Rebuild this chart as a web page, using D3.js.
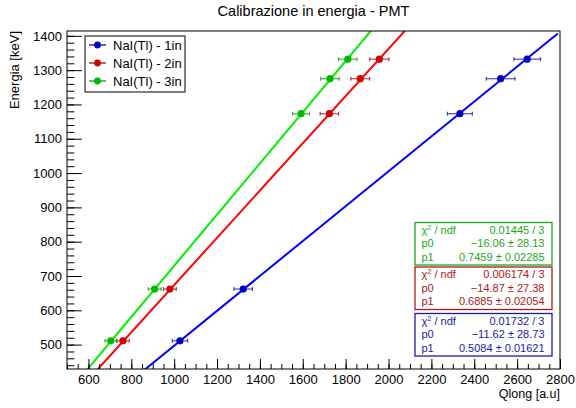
<!DOCTYPE html>
<html>
<head>
<meta charset="utf-8">
<script src="https://cdn.jsdelivr.net/npm/d3@7"></script>
<style>
  body { margin: 0; background: #fff; }
  text { font-family: "Liberation Sans", Arial, Helvetica, sans-serif; }
</style>
</head>
<body>
<svg id="chart"></svg>
<script>
// Calibration points: gamma line energies (keV) vs charge (Qlong) for three NaI(Tl) crystals
const energies = [511, 662, 1173, 1275, 1332];

const qlong1in = [1027, 1322, 2333, 2523, 2647];
const qerr1in = [36, 43, 58, 67, 62];
const qlong2in = [761, 980, 1724, 1868, 1957];
const qerr2in = [29, 30, 43, 44, 45];
const qlong3in = [704, 909, 1592, 1727, 1810];
const qerr3in = [27, 30, 39, 43, 43];

const seriesNames = ["NaI(Tl) - 1in", "NaI(Tl) - 2in", "NaI(Tl) - 3in"];

// pol1 fit results: E = p0 + p1 * Q
const fitP0 = [-11.62, -14.87, -16.06];
const fitP1 = [0.5084, 0.6885, 0.7459];
const fitChi2 = ["0.01732 / 3", "0.006174 / 3", "0.01445 / 3"];
const fitP0Text = ["\u221211.62 \u00b1 28.73", "\u221214.87 \u00b1 27.38", "\u221216.06 \u00b1 28.13"];
const fitP1Text = ["0.5084 \u00b1 0.01621", "0.6885 \u00b1 0.02054", "0.7459 \u00b1 0.02285"];

const xTicks = [600, 800, 1000, 1200, 1400, 1600, 1800, 2000, 2200, 2400, 2600, 2800];
const yTicks = [500, 600, 700, 800, 900, 1000, 1100, 1200, 1300, 1400];

const width = 576, height = 408;
const frame = {left: 67, right: 560, top: 31, bottom: 369};

const lineColors = ["#0000ff", "#ff0000", "#00ee00"];
const markerColors = ["#0000c8", "#d40000", "#00b800"];
const barColors = ["#00008c", "#8c0000", "#008c00"];
const statColors = ["#1a1aa8", "#a81a1a", "#1aa81a"];

const series = [
  {name: seriesNames[0], q: qlong1in, err: qerr1in},
  {name: seriesNames[1], q: qlong2in, err: qerr2in},
  {name: seriesNames[2], q: qlong3in, err: qerr3in}
];

const svg = d3.select("#chart")
  .attr("width", width)
  .attr("height", height);

svg.append("rect")
  .attr("width", width)
  .attr("height", height)
  .attr("fill", "#fff");

const x = d3.scaleLinear().domain([500, 2800]).range([frame.left, frame.right]);
const y = d3.scaleLinear().domain([428.9, 1414.1]).range([frame.bottom, frame.top]);

const fw = frame.right - frame.left, fh = frame.bottom - frame.top;

svg.append("clipPath").attr("id", "plotclip")
  .append("rect")
  .attr("x", frame.left).attr("y", frame.top)
  .attr("width", fw).attr("height", fh);

// fit lines
const plot = svg.append("g").attr("clip-path", "url(#plotclip)");
series.forEach((s, i) => {
  const line = d3.line().x(d => x(d)).y(d => y(fitP0[i] + fitP1[i] * d));
  plot.append("path")
    .attr("d", line([500, 2790]))
    .attr("fill", "none")
    .attr("stroke", lineColors[i])
    .attr("stroke-width", 2);
});

// points with horizontal error bars
series.forEach((s, i) => {
  const g = svg.append("g");
  const pts = energies.map((e, k) => ({e, q: s.q[k], err: s.err[k]}));
  const bars = g.selectAll(".bar").data(pts).enter().append("g")
    .attr("stroke", barColors[i])
    .attr("stroke-opacity", 0.7)
    .attr("stroke-width", 1.2);
  bars.append("line")
    .attr("x1", d => x(d.q - d.err)).attr("x2", d => x(d.q + d.err))
    .attr("y1", d => y(d.e)).attr("y2", d => y(d.e));
  bars.append("line")
    .attr("x1", d => x(d.q - d.err)).attr("x2", d => x(d.q - d.err))
    .attr("y1", d => y(d.e) - 2).attr("y2", d => y(d.e) + 2);
  bars.append("line")
    .attr("x1", d => x(d.q + d.err)).attr("x2", d => x(d.q + d.err))
    .attr("y1", d => y(d.e) - 2).attr("y2", d => y(d.e) + 2);
  g.selectAll("circle").data(pts).enter().append("circle")
    .attr("cx", d => x(d.q))
    .attr("cy", d => y(d.e))
    .attr("r", 3.6)
    .attr("fill", markerColors[i]);
});

// axes: ticks point into the frame, ROOT style
const xMinor = d3.range(500, 2801, 50);
const yMinor = d3.range(440, 1401, 20);

const xAxis = svg.append("g").attr("transform", `translate(0,${frame.bottom})`);
xAxis.call(d3.axisBottom(x).tickValues(xMinor).tickSize(-5).tickFormat(""));
xAxis.append("g").call(d3.axisBottom(x).tickValues(xTicks).tickSizeInner(-10).tickSizeOuter(0)
  .tickPadding(6).tickFormat(d3.format("d")));

const yAxis = svg.append("g").attr("transform", `translate(${frame.left},0)`);
yAxis.call(d3.axisLeft(y).tickValues(yMinor).tickSize(-7.4).tickFormat(""));
yAxis.append("g").call(d3.axisLeft(y).tickValues(yTicks).tickSizeInner(-14.8).tickSizeOuter(0)
  .tickPadding(5).tickFormat(d3.format("d")));

svg.selectAll(".domain").remove();
svg.selectAll(".tick line").attr("stroke", "#000").attr("stroke-width", 1);
svg.selectAll(".tick text")
  .attr("font-family", "Liberation Sans, Arial, sans-serif")
  .attr("font-size", 13)
  .attr("fill", "#000");

// frame
svg.append("rect")
  .attr("x", frame.left).attr("y", frame.top)
  .attr("width", fw).attr("height", fh)
  .attr("fill", "none")
  .attr("stroke", "#000")
  .attr("stroke-width", 1);

// title and axis labels
svg.append("text")
  .attr("x", (frame.left + frame.right) / 2)
  .attr("y", 16)
  .attr("text-anchor", "middle")
  .attr("font-size", 14.5)
  .text("Calibrazione in energia - PMT");

svg.append("text")
  .attr("x", frame.right)
  .attr("y", 398)
  .attr("text-anchor", "end")
  .attr("font-size", 12.5)
  .text("Qlong [a.u]");

svg.append("text")
  .attr("transform", `translate(18.5,${frame.top}) rotate(-90)`)
  .attr("text-anchor", "end")
  .attr("font-size", 13)
  .text("Energia [keV]");

// legend
const legend = svg.append("g");
legend.append("rect")
  .attr("x", 85).attr("y", 36)
  .attr("width", 100).attr("height", 56)
  .attr("fill", "#fff")
  .attr("stroke", "#000")
  .attr("stroke-width", 1);

const legendItem = legend.selectAll(".legend").data(series).enter().append("g")
  .attr("class", "legend")
  .attr("transform", (d, i) => `translate(0,${45 + i * 18})`);
legendItem.append("line")
  .attr("x1", 89).attr("x2", 106)
  .attr("stroke", (d, i) => barColors[i])
  .attr("stroke-width", 1.2);
legendItem.append("circle")
  .attr("cx", 97.5).attr("r", 3.4)
  .attr("fill", (d, i) => markerColors[i]);
legendItem.append("text")
  .attr("x", 113)
  .attr("dy", "0.35em")
  .attr("font-size", 13)
  .text(d => d.name);

// fit statistics boxes (3in on top, 1in at bottom)
const statTops = [313.5, 267, 222.5];
series.forEach((s, i) => {
  const g = svg.append("g").attr("transform", `translate(415,${statTops[i]})`);
  g.append("rect")
    .attr("width", 137).attr("height", 42.5)
    .attr("fill", "#fff")
    .attr("stroke", statColors[i])
    .attr("stroke-width", 1.3);
  const rows = [["chi", fitChi2[i]], ["p0", fitP0Text[i]], ["p1", fitP1Text[i]]];
  rows.forEach((r, k) => {
    const yy = 11 + k * 13.6;
    const lab = g.append("text")
      .attr("x", 6.5).attr("y", yy)
      .attr("font-size", 11)
      .attr("fill", statColors[i]);
    if (r[0] === "chi") {
      lab.append("tspan").text("\u03c7");
      lab.append("tspan").attr("dy", -4).attr("font-size", 7.5).text("2");
      lab.append("tspan").attr("dy", 4).text(" / ndf");
    } else {
      lab.text(r[0]);
    }
    g.append("text")
      .attr("x", 129.5).attr("y", yy)
      .attr("text-anchor", "end")
      .attr("font-size", 11)
      .attr("fill", statColors[i])
      .text(r[1]);
  });
});
</script>
</body>
</html>
